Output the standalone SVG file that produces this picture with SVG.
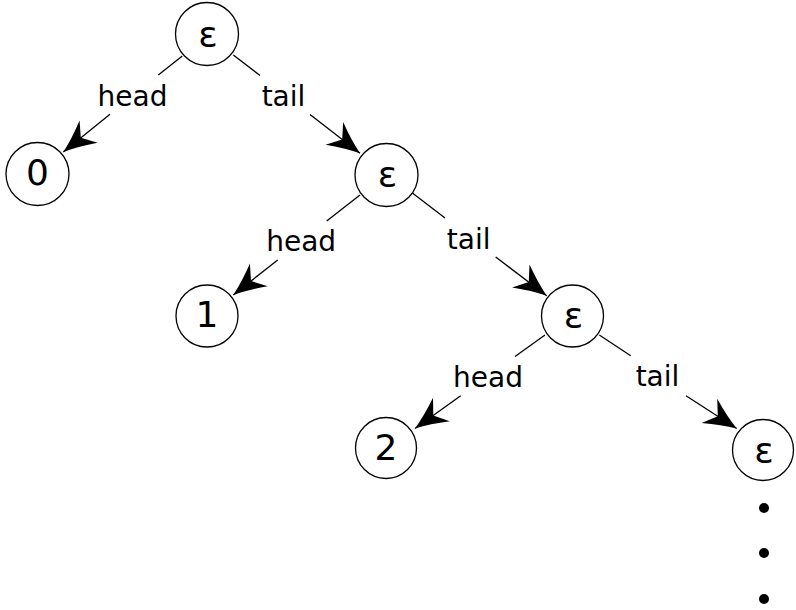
<svg xmlns="http://www.w3.org/2000/svg" width="796" height="610" viewBox="0 0 796 610">
<style>
.node{fill:#fff;stroke:#000;stroke-width:1.3}
.nt{font-family:"DejaVu Sans",sans-serif;font-size:36px;fill:#000;text-anchor:middle}
.lbl{font-family:"DejaVu Sans",sans-serif;font-size:28px;fill:#000;text-anchor:middle}
.edge{stroke:#000;stroke-width:1.3;fill:none}
.dot{fill:#000}
</style>
<defs>
<marker id="arr" markerUnits="userSpaceOnUse" markerWidth="40" markerHeight="40" refX="0" refY="0" orient="auto" overflow="visible" viewBox="-30 -15 32 30">
<path d="M0,0 Q-12,-4 -26,-11.5 L-18,0 L-26,11.5 Q-12,4 0,0 Z" fill="#000"/>
</marker>
</defs>
<rect width="796" height="610" fill="#fff"/>
<g id="connectors">
<line class="edge" x1="182.3" y1="56" x2="158.3" y2="75"/>
<line class="edge" x1="110" y1="114.3" x2="63.3" y2="152" marker-end="url(#arr)"/>
<line class="edge" x1="233.3" y1="55" x2="260" y2="75.5"/>
<line class="edge" x1="310" y1="114.5" x2="360" y2="153.3" marker-end="url(#arr)"/>
<line class="edge" x1="360" y1="195" x2="326.7" y2="221"/>
<line class="edge" x1="277.7" y1="260" x2="233.3" y2="295" marker-end="url(#arr)"/>
<line class="edge" x1="412.7" y1="193.3" x2="445" y2="217.9"/>
<line class="edge" x1="495.7" y1="257" x2="546.7" y2="295.7" marker-end="url(#arr)"/>
<line class="edge" x1="545" y1="335" x2="515" y2="356.5"/>
<line class="edge" x1="460.7" y1="395.7" x2="415" y2="428.5" marker-end="url(#arr)"/>
<line class="edge" x1="599.3" y1="335" x2="630.7" y2="355.7"/>
<line class="edge" x1="686" y1="395.7" x2="736.7" y2="428.5" marker-end="url(#arr)"/>
<text class="lbl" x="132.5" y="106">head</text>
<text class="lbl" x="283.5" y="106">tail</text>
<text class="lbl" x="301.2" y="250.5">head</text>
<text class="lbl" x="468.7" y="248.5">tail</text>
<text class="lbl" x="488" y="386.5">head</text>
<text class="lbl" x="657.5" y="386">tail</text>
</g>
<g id="n-eps1"><circle class="node" cx="207" cy="34" r="31.5"/><text class="nt" x="208" y="47">ε</text></g>
<g id="n-0"><circle class="node" cx="37.5" cy="174" r="31.5"/><text class="nt" x="37.5" y="185">0</text></g>
<g id="n-eps2"><circle class="node" cx="386.5" cy="175" r="31.5"/><text class="nt" x="387.5" y="187">ε</text></g>
<g id="n-1"><circle class="node" cx="207" cy="316" r="31"/><text class="nt" x="207" y="327">1</text></g>
<g id="n-eps3"><circle class="node" cx="572.5" cy="316" r="31"/><text class="nt" x="573.5" y="328">ε</text></g>
<g id="n-2"><circle class="node" cx="386" cy="448" r="30.5"/><text class="nt" x="386" y="460">2</text></g>
<g id="n-eps4"><circle class="node" cx="763" cy="450" r="30.5"/><text class="nt" x="764" y="463">ε</text></g>
<g id="ellipsis">
<circle class="dot" cx="764" cy="508" r="5"/>
<circle class="dot" cx="764" cy="553" r="5"/>
<circle class="dot" cx="764" cy="599" r="5"/>
</g>
</svg>
